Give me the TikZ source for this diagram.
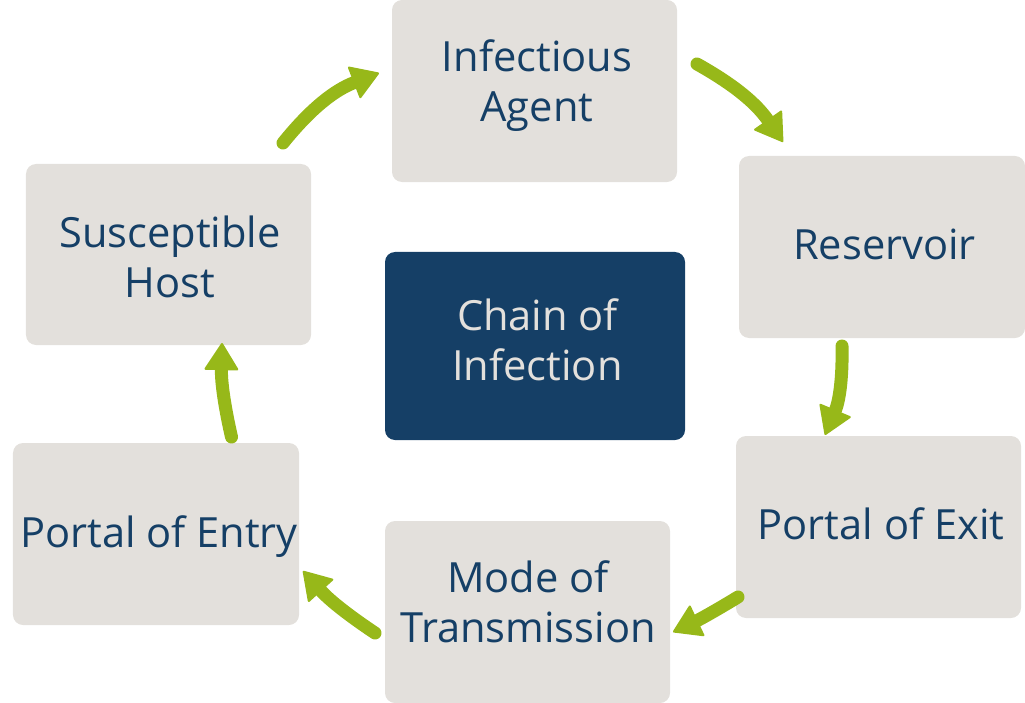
\documentclass[tikz,border=0pt]{standalone}
\usepackage{fontspec}
\setmainfont{Open Sans}
\usetikzlibrary{arrows.meta}
\definecolor{boxgray}{HTML}{E3E0DC}
\definecolor{navy}{HTML}{153F66}
\definecolor{leaf}{HTML}{97B819}
\tikzset{
  card/.style={rectangle, rounded corners=10bp, fill=boxgray, draw=none, minimum width=285bp, minimum height=182bp, inner sep=0pt},
  darkcard/.style={card, fill=navy, minimum width=300bp, minimum height=188bp},
  txt/.style={anchor=base, align=center, inner sep=0pt, text=navy, font=\fontsize{41.6bp}{50bp}\selectfont},
  lighttxt/.style={txt, text=boxgray},
  flow/.style={draw=leaf, line width=13bp, line cap=round, -{Triangle[length=28bp, width=35bp, line width=2bp, round]}}
}
\begin{document}
\begin{tikzpicture}[x=1bp, y=-1bp]
\useasboundingbox (0,0) rectangle (1025,703);
% boxes
\node[card] (agent) at (534.5,91) {};
\node[card, minimum width=286bp] (reservoir) at (882,247) {};
\node[card] (exit) at (878.5,527) {};
\node[card] (mode) at (527.5,612) {};
\node[card, minimum width=286bp] (entry) at (156,534) {};
\node[card, minimum height=181bp] (host) at (168.5,254.5) {};
\node[darkcard] (chain) at (535,346) {};
% texts (base = baseline of the last line)
\node[txt] (agentT) at (537,121.7) {Infectious\\Agent};
\node[txt] (reservoirT) at (884.5,259) {Reservoir};
\node[txt] (exitT) at (881,539) {Portal of Exit};
\node[txt] (modeT) at (528,642) {Mode of\\Transmission};
\node[txt] (entryT) at (159,547) {Portal of Entry};
\node[txt] (hostT) at (170,297) {Susceptible\\Host};
\node[lighttxt] (chainT) at (537.5,380) {Chain of\\Infection};
% arrow end points
\coordinate (h2aS) at (283,143);
\coordinate (h2aE) at (379,73);
\coordinate (a2rS) at (697,64);
\coordinate (a2rE) at (783,142);
\coordinate (r2eS) at (842,346);
\coordinate (r2eE) at (825,435);
\coordinate (e2mS) at (738,597);
\coordinate (e2mE) at (673,632);
\coordinate (m2pS) at (375,633);
\coordinate (m2pE) at (303,571);
\coordinate (p2hS) at (231.5,437);
\coordinate (p2hE) at (222,343);
% arrows
\draw[flow] (h2aS) to[bend left=15] (h2aE);
\draw[flow] (a2rS) to[bend left=13] (a2rE);
\draw[flow] (r2eS) to[bend left=12] (r2eE);
\draw[flow] (e2mS) to[bend left=3] (e2mE);
\draw[flow] (m2pS) to[bend left=7] (m2pE);
\draw[flow] (p2hS) to[bend left=7] (p2hE);
\end{tikzpicture}
\end{document}
